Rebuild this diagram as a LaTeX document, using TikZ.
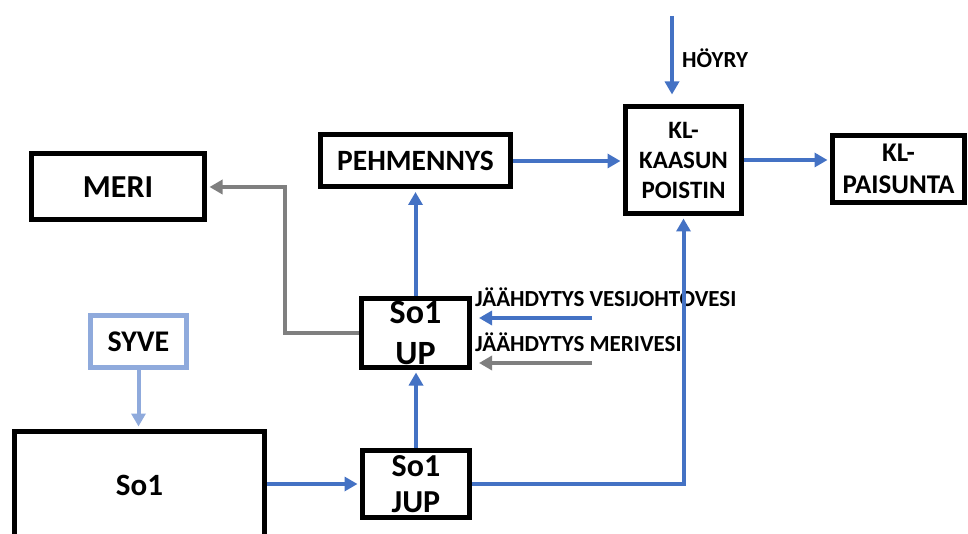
\documentclass[tikz,border=0pt]{standalone}
\usepackage{fontspec}
\setmainfont{Carlito}
\usetikzlibrary{arrows.meta}
\definecolor{flowblue}{HTML}{4472C4}
\definecolor{flowgrey}{HTML}{7F7F7F}
\definecolor{feedblue}{HTML}{8FAADC}
\newcommand{\bfsize}[1]{\bfseries\fontsize{#1}{1.2\dimexpr#1pt\relax}\selectfont}
\begin{document}
\begin{tikzpicture}[x=1pt,y=-1pt,
  unit/.style={draw=black, line width=5pt, fill=white, align=center, inner sep=0pt},
  flow/.style={line width=4pt, -{Triangle[length=13pt,width=14pt]}, shorten >=2.5pt},
  tag/.style={anchor=west, inner sep=0pt, font=\bfsize{23}}]
\useasboundingbox (0,0) rectangle (968,534);

% process units
\node[unit, minimum width=173pt, minimum height=66pt, font=\bfsize{32}] (meri) at (118,187) {MERI};
\node[unit, minimum width=190pt, minimum height=52pt, font=\bfsize{29.5}] (pehm) at (415.5,161) {PEHMENNYS};
\node[unit, minimum width=116pt, minimum height=107pt, font=\bfsize{25}] (kl) at (683.5,160) {KL-\\[0pt]KAASUN\\[0pt]POISTIN};
\node[unit, minimum width=132pt, minimum height=67pt, font=\bfsize{27}] (pais) at (898.5,169) {KL-\\[0pt]PAISUNTA};
\node[unit, minimum width=108pt, minimum height=69pt, font=\bfsize{34}] (up) at (415.5,333) {So1\\[0pt]UP};
\node[unit, minimum width=107pt, minimum height=67pt, font=\bfsize{32}] (jup) at (416,484) {So1\\[-3pt]JUP};
\node[unit, minimum width=250pt, minimum height=107pt, font=\bfsize{31}] (so1) at (139.5,485) {So1};
\node[unit, draw=feedblue, minimum width=96pt, minimum height=52pt, font=\bfsize{30}] (syve) at (138.5,341.5) {SYVE};

% free ends of the feed lines
\coordinate (steam) at (672,16);
\coordinate (cwater) at (592,318);
\coordinate (cseawater) at (592,363);
\coordinate (gbend) at (285,187);

% labels
\node[tag] (lsteam) at (682,58) {HÖYRY};
\node[tag] (lcw) at (475,297) {JÄÄHDYTYS VESIJOHTOVESI};
\node[tag] (lcs) at (475,342) {JÄÄHDYTYS MERIVESI};

% flows
\draw[flow, flowblue, shorten >=9.5pt] (steam) -- (steam |- kl.north);
\draw[flow, flowblue] (pehm.east) -- (pehm.east -| kl.west);
\draw[flow, flowblue] (kl.east) -- (kl.east -| pais.west);
\draw[flow, flowblue] (up.north) -- (up.north |- pehm.south);
\draw[flow, flowblue] (jup.north) -- (jup.north |- up.south);
\draw[flow, flowblue] (so1.east |- jup.west) -- (jup.west);
\draw[flow, flowblue] (jup.east) -| (kl.south);
\draw[flow, feedblue] (syve.south) -- (syve.south |- so1.north);
\draw[flow, flowgrey] (up.west) -| (gbend) -- (meri.east);
\draw[flow, flowblue, shorten >=7pt] (cwater) -- (cwater -| up.east);
\draw[flow, flowgrey, shorten >=7pt] (cseawater) -- (cseawater -| up.east);
\end{tikzpicture}
\end{document}
